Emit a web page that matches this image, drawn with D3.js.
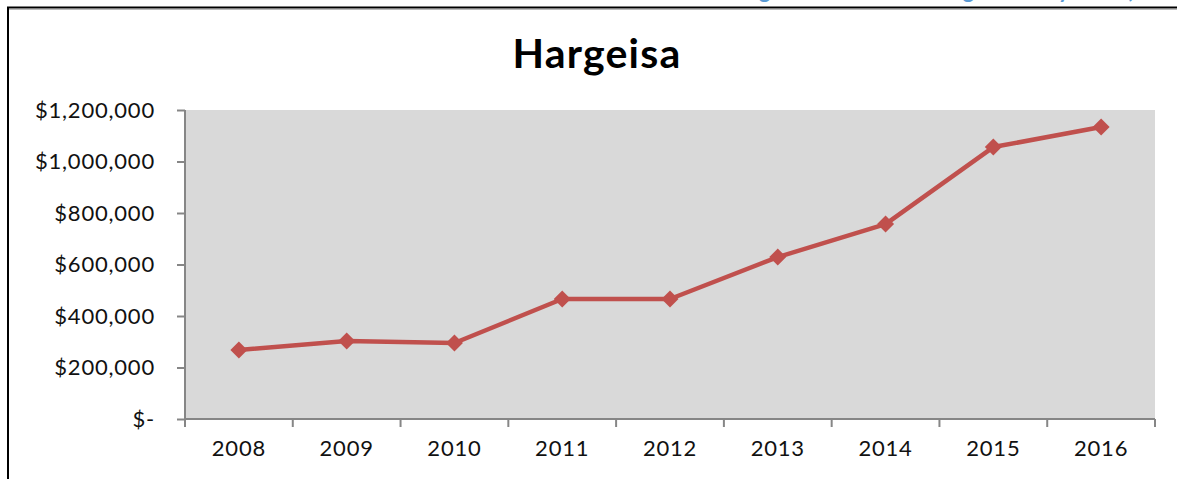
<!DOCTYPE html>
<html><head><meta charset="utf-8">
<script src="https://cdn.jsdelivr.net/npm/d3@7"></script>
<style>body{margin:0;background:#fff;} svg{display:block;}</style>
</head><body>
<script>
const years = ["2008","2009","2010","2011","2012","2013","2014","2015","2016"];
const values = [268000, 303000, 295000, 466000, 466000, 629000, 757000, 1056000, 1134000];
const yTicks = [0, 200000, 400000, 600000, 800000, 1000000, 1200000];
const title = "Hargeisa";
const sourceNote = "Source: Accounting Information Management System (AIMS)";

(function(){
const W = 1177, H = 479;
const svg = d3.select("body").append("svg").attr("width", W).attr("height", H);
const font = "Lato, 'Open Sans', sans-serif";

// source note (cut off by the page top, as in the original)
svg.append("text").attr("x", 572).attr("y", -2).attr("text-anchor", "start")
  .attr("font-family", font).attr("font-weight", "bold").attr("font-size", 22)
  .attr("letter-spacing", 0.6).attr("fill", "#5b9bd5").text(sourceNote);

// outer frame
svg.append("rect").attr("x", 8).attr("y", 7.5).attr("width", W + 20).attr("height", H + 20)
  .attr("fill", "none").attr("stroke", "#000").attr("stroke-width", 2);
svg.append("line").attr("x1", 9).attr("x2", W).attr("y1", 9.5).attr("y2", 9.5).attr("stroke", "#bbb").attr("stroke-width", 1);

const pL = 185, pR = 1155, pT = 110, pB = 419;
const x = d3.scaleBand().domain(years).range([pL, pR]);
const y = d3.scaleLinear().domain([0, 1200000]).range([pB, pT]);

svg.append("rect").attr("x", pL).attr("y", pT).attr("width", pR - pL).attr("height", pB - pT).attr("fill", "#d9d9d9");

svg.append("text").attr("x", 597).attr("y", 68).attr("text-anchor", "middle")
  .attr("font-family", font).attr("font-weight", "bold").attr("font-size", 41)
  .attr("letter-spacing", 1.2).attr("fill", "#000").text(title);

const fmt = v => v === 0 ? "$-" : "$" + d3.format(",")(v);
const ya = svg.append("g").attr("transform", `translate(${pL},0)`)
  .call(d3.axisLeft(y).tickValues(yTicks).tickFormat(fmt).tickSize(8).tickPadding(22));
ya.select(".domain").attr("stroke", "#868686").attr("stroke-width", 2).attr("d", `M0,${pT}V${pB}`);
ya.selectAll(".tick line").attr("stroke", "#868686").attr("stroke-width", 2);
ya.selectAll(".tick text").attr("font-family", font).attr("font-size", 22)
  .attr("letter-spacing", 0.8).attr("fill", "#111");

const xa = svg.append("g").attr("transform", `translate(0,${pB})`)
  .call(d3.axisBottom(x).tickSize(0).tickPadding(21));
xa.select(".domain").attr("stroke", "#868686").attr("stroke-width", 2).attr("d", `M${pL},0H${pR}`);
xa.selectAll(".tick text").attr("font-family", font).attr("font-size", 22)
  .attr("letter-spacing", 0.8).attr("fill", "#111");
const bounds = years.map(d => x(d)).concat([pR]);
xa.selectAll(".bt").data(bounds).enter().append("line").attr("class", "bt")
  .attr("x1", d => d).attr("x2", d => d).attr("y1", 0).attr("y2", 8)
  .attr("stroke", "#868686").attr("stroke-width", 2);

const cx = d => x(d) + x.bandwidth() / 2;
const line = d3.line().x((d, i) => cx(years[i])).y(d => y(d));
svg.append("path").datum(values).attr("d", line).attr("fill", "none")
  .attr("stroke", "#c0504d").attr("stroke-width", 4.5).attr("stroke-linejoin", "round");
const r = 8.5;
svg.selectAll(".mk").data(values).enter().append("path").attr("class", "mk")
  .attr("transform", (d, i) => `translate(${cx(years[i])},${y(d)})`)
  .attr("d", `M0,${-r}L${r},0L0,${r}L${-r},0Z`).attr("fill", "#c0504d");
})();
</script>
</body></html>
